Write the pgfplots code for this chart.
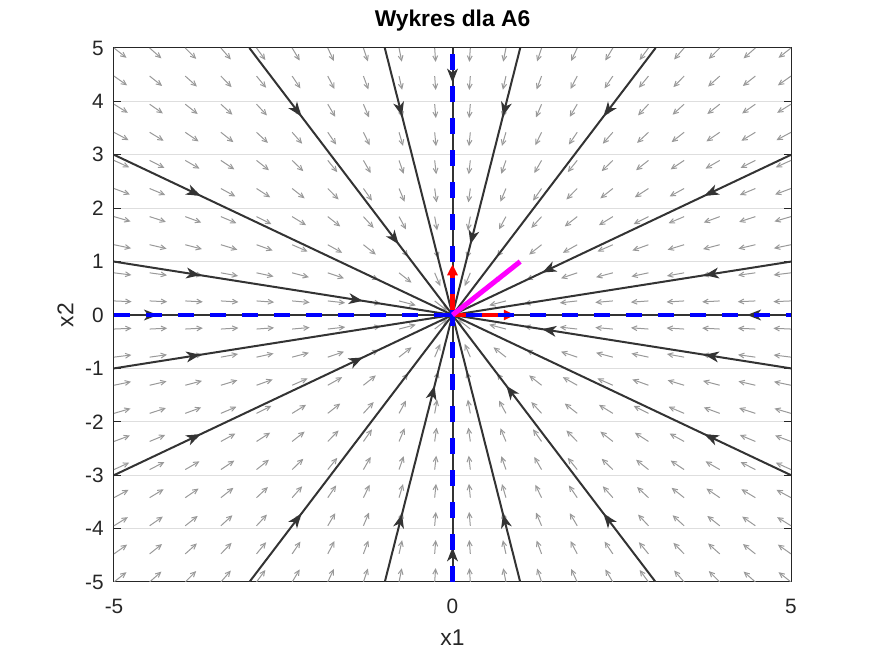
\documentclass[border=0pt]{standalone}
\usepackage{pgfplots}
\pgfplotsset{compat=1.18}
\usepackage{pgfplotstable}
\usepackage{fontspec}
\setmainfont{Liberation Sans}
\usetikzlibrary{arrows.meta,decorations.markings}

\definecolor{quivgray}{gray}{0.6}
\definecolor{trajgray}{gray}{0.2}
\definecolor{gridgray}{gray}{0.87}
\definecolor{axgray}{gray}{0.15}
\definecolor{pmag}{RGB}{255,0,255}
\definecolor{pred}{RGB}{255,0,0}
\definecolor{pblue}{RGB}{0,0,255}

% one quadrant of the 20x20 quiver grid: position (x,y>0) and unit direction magnitudes
\pgfplotstableread{
x y gx gy
0.2632 0.2632 .707 .707
0.2632 0.7895 .316 .949
0.2632 1.3158 .196 .981
0.2632 1.8421 .141 .990
0.2632 2.3684 .110 .994
0.2632 2.8947 .091 .996
0.2632 3.4211 .077 .997
0.2632 3.9474 .067 .998
0.2632 4.4737 .059 .998
0.2632 5.0000 .053 .999
0.7895 0.2632 .949 .316
0.7895 0.7895 .707 .707
0.7895 1.3158 .514 .857
0.7895 1.8421 .394 .919
0.7895 2.3684 .316 .949
0.7895 2.8947 .263 .965
0.7895 3.4211 .225 .974
0.7895 3.9474 .196 .981
0.7895 4.4737 .174 .985
0.7895 5.0000 .156 .988
1.3158 0.2632 .981 .196
1.3158 0.7895 .857 .514
1.3158 1.3158 .707 .707
1.3158 1.8421 .581 .814
1.3158 2.3684 .486 .874
1.3158 2.8947 .414 .910
1.3158 3.4211 .359 .933
1.3158 3.9474 .316 .949
1.3158 4.4737 .282 .959
1.3158 5.0000 .255 .967
1.8421 0.2632 .990 .141
1.8421 0.7895 .919 .394
1.8421 1.3158 .814 .581
1.8421 1.8421 .707 .707
1.8421 2.3684 .614 .789
1.8421 2.8947 .537 .844
1.8421 3.4211 .474 .881
1.8421 3.9474 .423 .906
1.8421 4.4737 .381 .925
1.8421 5.0000 .346 .938
2.3684 0.2632 .994 .110
2.3684 0.7895 .949 .316
2.3684 1.3158 .874 .486
2.3684 1.8421 .789 .614
2.3684 2.3684 .707 .707
2.3684 2.8947 .633 .774
2.3684 3.4211 .569 .822
2.3684 3.9474 .514 .857
2.3684 4.4737 .468 .884
2.3684 5.0000 .428 .904
2.8947 0.2632 .996 .091
2.8947 0.7895 .965 .263
2.8947 1.3158 .910 .414
2.8947 1.8421 .844 .537
2.8947 2.3684 .774 .633
2.8947 2.8947 .707 .707
2.8947 3.4211 .646 .763
2.8947 3.9474 .591 .806
2.8947 4.4737 .543 .840
2.8947 5.0000 .501 .865
3.4211 0.2632 .997 .077
3.4211 0.7895 .974 .225
3.4211 1.3158 .933 .359
3.4211 1.8421 .881 .474
3.4211 2.3684 .822 .569
3.4211 2.8947 .763 .646
3.4211 3.4211 .707 .707
3.4211 3.9474 .655 .756
3.4211 4.4737 .607 .794
3.4211 5.0000 .565 .825
3.9474 0.2632 .998 .067
3.9474 0.7895 .981 .196
3.9474 1.3158 .949 .316
3.9474 1.8421 .906 .423
3.9474 2.3684 .857 .514
3.9474 2.8947 .806 .591
3.9474 3.4211 .756 .655
3.9474 3.9474 .707 .707
3.9474 4.4737 .662 .750
3.9474 5.0000 .620 .785
4.4737 0.2632 .998 .059
4.4737 0.7895 .985 .174
4.4737 1.3158 .959 .282
4.4737 1.8421 .925 .381
4.4737 2.3684 .884 .468
4.4737 2.8947 .840 .543
4.4737 3.4211 .794 .607
4.4737 3.9474 .750 .662
4.4737 4.4737 .707 .707
4.4737 5.0000 .667 .745
5.0000 0.2632 .999 .053
5.0000 0.7895 .988 .156
5.0000 1.3158 .967 .255
5.0000 1.8421 .938 .346
5.0000 2.3684 .904 .428
5.0000 2.8947 .865 .501
5.0000 3.4211 .825 .565
5.0000 3.9474 .785 .620
5.0000 4.4737 .745 .667
5.0000 5.0000 .707 .707
}\Qtab

\tikzset{
  trarrow/.tip={Stealth[length=7pt,width=5.4pt,inset=2pt]},
  traj/.style={trajgray, line width=1pt, postaction={decorate},
    decoration={markings,
      mark=at position 0.255 with {\arrow{trarrow}}}},
  trajtwo/.style={trajgray, line width=1pt, postaction={decorate},
    decoration={markings,
      mark=at position 0.255 with {\arrow{trarrow}},
      mark=at position 0.735 with {\arrow{trarrow}}}},
  trajaxis/.style={trajgray, line width=1pt, postaction={decorate},
    decoration={markings,
      mark=at position 0.13 with {\arrow{trarrow}}}},
  quiv/.style={quivgray, line width=0.5pt, -{Straight Barb[length=2.5pt,width=2.4pt]}},
}

\begin{document}
\begin{tikzpicture}
\begin{axis}[
  scale only axis,
  width=338.5pt, height=267pt,
  xmin=-5, xmax=5, ymin=-5, ymax=5,
  xtick={-5,0,5}, xticklabels={-5,0,5},
  ytick={-5,-4,-3,-2,-1,0,1,2,3,4,5},
  yticklabels={-5,-4,-3,-2,-1,0,1,2,3,4,5},
  minor tick num=0,
  ymajorgrids,
  major grid style={gridgray, line width=0.5pt},
  tick align=inside,
  major tick length=3.4pt,
  tick style={axgray, line width=0.5pt},
  axis line style={axgray, line width=0.5pt},
  tick label style={font=\fontsize{10.4}{12}\selectfont, text=axgray},
  xticklabel style={anchor=center, yshift=-12pt},
  yticklabel style={anchor=east, inner sep=0pt, xshift=-5pt},
  xlabel={x1}, ylabel={x2},
  label style={font=\fontsize{11.4}{13}\selectfont, text=axgray},
  xlabel style={at={(axis description cs:0.5,-0.1039)}, anchor=center},
  ylabel style={at={(axis description cs:-0.0716,0.5)}, anchor=center},
  title={Wykres dla A6},
  title style={at={(axis description cs:0.5,1.0169)}, anchor=base,
    font=\bfseries\fontsize{11.4}{13}\selectfont},
]
% quiver field (four quadrants of the same grid)
\addplot[quiv, quiver={u=-\thisrow{gx}, v=-\thisrow{gy}, scale arrows=0.26}]
  table[x=x, y=y] {\Qtab};
\addplot[quiv, quiver={u=\thisrow{gx}, v=-\thisrow{gy}, scale arrows=0.26}]
  table[x expr=-\thisrow{x}, y=y] {\Qtab};
\addplot[quiv, quiver={u=\thisrow{gx}, v=\thisrow{gy}, scale arrows=0.26}]
  table[x expr=-\thisrow{x}, y expr=-\thisrow{y}] {\Qtab};
\addplot[quiv, quiver={u=-\thisrow{gx}, v=\thisrow{gy}, scale arrows=0.26}]
  table[x=x, y expr=-\thisrow{y}] {\Qtab};

% trajectories
\addplot[trajtwo] coordinates {(-3,5) (0,0)};
\addplot[traj] coordinates {(-1,5) (0,0)};
\addplot[trajtwo] coordinates {(1,5) (0,0)};
\addplot[traj] coordinates {(3,5) (0,0)};
\addplot[traj] coordinates {(-3,-5) (0,0)};
\addplot[trajtwo] coordinates {(-1,-5) (0,0)};
\addplot[traj] coordinates {(1,-5) (0,0)};
\addplot[trajtwo] coordinates {(3,-5) (0,0)};
\addplot[traj] coordinates {(-5,3) (0,0)};
\addplot[trajtwo] coordinates {(-5,1) (0,0)};
\addplot[traj] coordinates {(-5,-1) (0,0)};
\addplot[trajtwo] coordinates {(-5,-3) (0,0)};
\addplot[trajtwo] coordinates {(5,3) (0,0)};
\addplot[traj] coordinates {(5,1) (0,0)};
\addplot[trajtwo] coordinates {(5,-1) (0,0)};
\addplot[traj] coordinates {(5,-3) (0,0)};
\addplot[trajaxis] coordinates {(0,5) (0,0)};
\addplot[trajaxis] coordinates {(0,-5) (0,0)};
\addplot[trajaxis] coordinates {(-5,0) (0,0)};
\addplot[trajaxis] coordinates {(5,0) (0,0)};

% eigenvector arrows
\addplot[pred, line width=2.1pt, -{Triangle[length=5.5pt,width=5pt]}] coordinates {(0,0) (0.92,0)};
\addplot[pred, line width=2.1pt, -{Triangle[length=5.5pt,width=5pt]}] coordinates {(0,0) (0,0.95)};

% eigen directions (dashed)
\addplot[pblue, line width=2.1pt, dash pattern=on 8pt off 8pt] coordinates {(-5,0) (5,0)};
\addplot[pblue, line width=2.1pt, dash pattern=on 8pt off 8pt] coordinates {(0,-5) (0,5)};

% magenta segment
\addplot[pmag, line width=2.5pt] coordinates {(0,0) (1,1)};
\end{axis}
\pgfresetboundingbox
\path[use as bounding box] ([shift={(-57pt,-37pt)}]current axis.south west) rectangle ([shift={(42pt,24pt)}]current axis.north east);
\end{tikzpicture}
\end{document}
